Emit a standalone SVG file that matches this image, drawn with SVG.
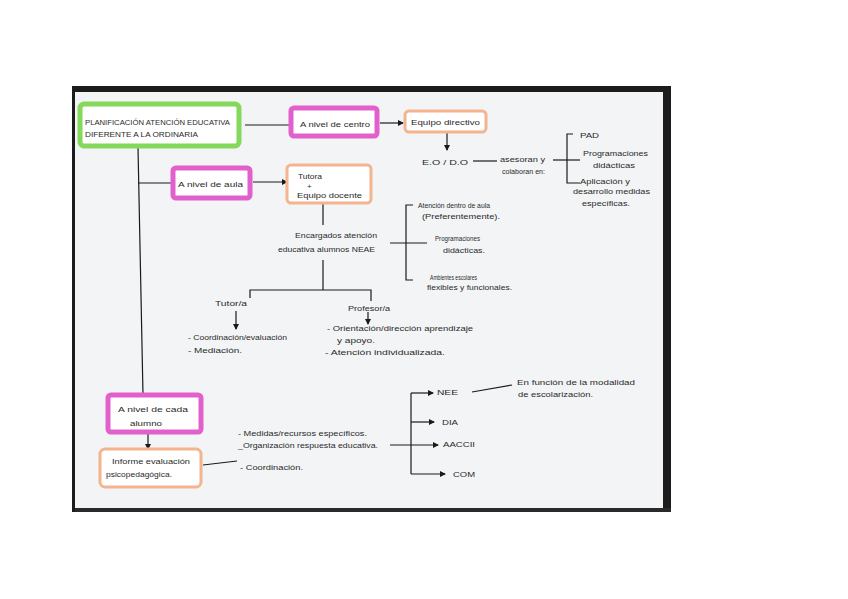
<svg xmlns="http://www.w3.org/2000/svg" width="848" height="599" viewBox="0 0 848 599">
<defs>
<marker id="ah" markerWidth="6" markerHeight="6" refX="5" refY="3" orient="auto" markerUnits="userSpaceOnUse">
<path d="M0,0 L6,3 L0,6 Z" fill="#1a1a1a"/>
</marker>
<style>
text{font-family:"Liberation Sans","DejaVu Sans",sans-serif;font-size:8px;fill:#2a2a2a}
.g{fill:#ffffff;stroke:#84d85c;stroke-width:5}
.p{fill:#ffffff;stroke:#e260cc;stroke-width:5}
.o{fill:#ffffff;stroke:#f4b48e;stroke-width:3}
.c line,.c path,.c polyline{stroke:#1a1a1a;stroke-width:1.2;fill:none}
</style>
</defs>
<rect width="848" height="599" fill="#ffffff"/>
<rect x="72" y="86" width="599" height="426" fill="#f3f4f6"/>
<rect x="72" y="86" width="599" height="6" fill="#1c1c1c"/>
<rect x="663" y="86" width="8" height="426" fill="#1c1c1c"/>
<rect x="72" y="508" width="599" height="4" fill="#2a2a2a"/>
<rect x="72" y="86" width="3" height="426" fill="#1c1c1c"/>

<g class="c" id="connectors">
<line x1="245" y1="125" x2="290" y2="125"/>
<line x1="380" y1="123" x2="403" y2="123" marker-end="url(#ah)"/>
<line x1="447" y1="133" x2="447" y2="150" marker-end="url(#ah)"/>
<line x1="473" y1="161" x2="497" y2="161"/>
<line x1="553" y1="160" x2="580" y2="160"/>
<path d="M573,134 H567 V183 H580"/>
<line x1="138" y1="147" x2="143" y2="395"/>
<line x1="138" y1="183" x2="172" y2="183"/>
<line x1="253" y1="182" x2="287" y2="182" marker-end="url(#ah)"/>
<line x1="323" y1="203" x2="323" y2="225"/>
<line x1="323" y1="260" x2="323" y2="290"/>
<path d="M250,298 V290 H371 V301"/>
<line x1="236" y1="311" x2="236" y2="329" marker-end="url(#ah)"/>
<line x1="368" y1="312" x2="368" y2="324" marker-end="url(#ah)"/>
<line x1="390" y1="243" x2="427" y2="243"/>
<path d="M413,205 H406 V280 H413"/>
<line x1="148" y1="433" x2="148" y2="449" marker-end="url(#ah)"/>
<line x1="203" y1="465" x2="237" y2="461"/>
<line x1="411" y1="393" x2="411" y2="474"/>
<line x1="411" y1="393" x2="433" y2="393" marker-end="url(#ah)"/>
<line x1="411" y1="422" x2="434" y2="422" marker-end="url(#ah)"/>
<line x1="390" y1="445" x2="438" y2="445" marker-end="url(#ah)"/>
<line x1="411" y1="474" x2="445" y2="474" marker-end="url(#ah)"/>
<line x1="472" y1="392" x2="512" y2="385"/>
</g>

<g id="n-planificacion">
<rect class="g" x="80" y="104" width="159" height="42" rx="4"/>
<text x="85" y="125" textLength="145" lengthAdjust="spacingAndGlyphs">PLANIFICACIÓN ATENCIÓN EDUCATIVA</text>
<text x="85" y="137" textLength="113" lengthAdjust="spacingAndGlyphs">DIFERENTE A LA ORDINARIA</text>
</g>
<g id="n-centro">
<rect class="p" x="291" y="108" width="86" height="28" rx="3"/>
<text x="300" y="127" textLength="70" lengthAdjust="spacingAndGlyphs">A nivel de centro</text>
</g>
<g id="n-equipo-directivo">
<rect class="o" x="405" y="111" width="81" height="21" rx="4"/>
<text x="411" y="125" textLength="69" lengthAdjust="spacingAndGlyphs">Equipo directivo</text>
</g>
<g id="n-eo">
<text x="422" y="165" textLength="46" lengthAdjust="spacingAndGlyphs">E.O / D.O</text>
<text x="500" y="162" textLength="45" lengthAdjust="spacingAndGlyphs">asesoran y</text>
<text x="502" y="174" textLength="43" lengthAdjust="spacingAndGlyphs">colaboran en:</text>
</g>
<g id="n-eo-list">
<text x="580" y="138" textLength="19" lengthAdjust="spacingAndGlyphs">PAD</text>
<text x="583" y="156" textLength="65" lengthAdjust="spacingAndGlyphs">Programaciones</text>
<text x="593" y="168" textLength="42" lengthAdjust="spacingAndGlyphs">didácticas</text>
<text x="580" y="184" textLength="50" lengthAdjust="spacingAndGlyphs">Aplicación y</text>
<text x="573" y="194" textLength="77" lengthAdjust="spacingAndGlyphs">desarrollo medidas</text>
<text x="582" y="206" textLength="48" lengthAdjust="spacingAndGlyphs">específicas.</text>
</g>
<g id="n-aula">
<rect class="p" x="173" y="168" width="77" height="30" rx="3"/>
<text x="178" y="187" textLength="65" lengthAdjust="spacingAndGlyphs">A nivel de aula</text>
</g>
<g id="n-tutora">
<rect class="o" x="287" y="165" width="84" height="38" rx="4"/>
<text x="298" y="179" textLength="24" lengthAdjust="spacingAndGlyphs">Tutora</text>
<text x="307" y="189">+</text>
<text x="297" y="198" textLength="65" lengthAdjust="spacingAndGlyphs">Equipo docente</text>
</g>
<g id="n-encargados">
<text x="295" y="238" textLength="82" lengthAdjust="spacingAndGlyphs">Encargados atención</text>
<text x="278" y="252" textLength="97" lengthAdjust="spacingAndGlyphs">educativa alumnos NEAE</text>
</g>
<g id="n-aula-list">
<text x="418" y="208" textLength="72" lengthAdjust="spacingAndGlyphs">Atención dentro de aula</text>
<text x="422" y="219" textLength="78" lengthAdjust="spacingAndGlyphs">(Preferentemente).</text>
<text x="435" y="241" textLength="45" lengthAdjust="spacingAndGlyphs">Programaciones</text>
<text x="443" y="253" textLength="42" lengthAdjust="spacingAndGlyphs">didácticas.</text>
<text x="430" y="280" textLength="47" lengthAdjust="spacingAndGlyphs">Ambientes escolares</text>
<text x="427" y="290" textLength="85" lengthAdjust="spacingAndGlyphs">flexibles y funcionales.</text>
</g>
<g id="n-tutor">
<text x="215" y="306" textLength="32" lengthAdjust="spacingAndGlyphs">Tutor/a</text>
<text x="188" y="340" textLength="99" lengthAdjust="spacingAndGlyphs">- Coordinación/evaluación</text>
<text x="188" y="353" textLength="54" lengthAdjust="spacingAndGlyphs">- Mediación.</text>
</g>
<g id="n-profesor">
<text x="348" y="311" textLength="42" lengthAdjust="spacingAndGlyphs">Profesor/a</text>
<text x="327" y="331" textLength="146" lengthAdjust="spacingAndGlyphs">- Orientación/dirección aprendizaje</text>
<text x="337" y="343" textLength="38" lengthAdjust="spacingAndGlyphs">y apoyo.</text>
<text x="325" y="355" textLength="120" lengthAdjust="spacingAndGlyphs">- Atención individualizada.</text>
</g>
<g id="n-alumno">
<rect class="p" x="108" y="395" width="93" height="37" rx="3"/>
<text x="118" y="412" textLength="70" lengthAdjust="spacingAndGlyphs">A nivel de cada</text>
<text x="130" y="426" textLength="32" lengthAdjust="spacingAndGlyphs">alumno</text>
</g>
<g id="n-informe">
<rect class="o" x="100" y="449" width="101" height="38" rx="5"/>
<text x="112" y="464" textLength="78" lengthAdjust="spacingAndGlyphs">Informe evaluación</text>
<text x="106" y="477" textLength="66" lengthAdjust="spacingAndGlyphs">psicopedagógica.</text>
</g>
<g id="n-informe-list">
<text x="238" y="436" textLength="129" lengthAdjust="spacingAndGlyphs">- Medidas/recursos específicos.</text>
<text x="238" y="448" textLength="140" lengthAdjust="spacingAndGlyphs">_Organización respuesta educativa.</text>
<text x="240" y="470" textLength="63" lengthAdjust="spacingAndGlyphs">- Coordinación.</text>
</g>
<g id="n-nee"><text x="437" y="395" textLength="21" lengthAdjust="spacingAndGlyphs">NEE</text></g>
<g id="n-dia"><text x="442" y="425" textLength="16" lengthAdjust="spacingAndGlyphs">DIA</text></g>
<g id="n-aaccii"><text x="443" y="447" textLength="32" lengthAdjust="spacingAndGlyphs">AACCII</text></g>
<g id="n-com"><text x="453" y="477" textLength="22" lengthAdjust="spacingAndGlyphs">COM</text></g>
<g id="n-funcion">
<text x="517" y="385" textLength="118" lengthAdjust="spacingAndGlyphs">En función de la modalidad</text>
<text x="518" y="397" textLength="75" lengthAdjust="spacingAndGlyphs">de escolarización.</text>
</g>
</svg>
